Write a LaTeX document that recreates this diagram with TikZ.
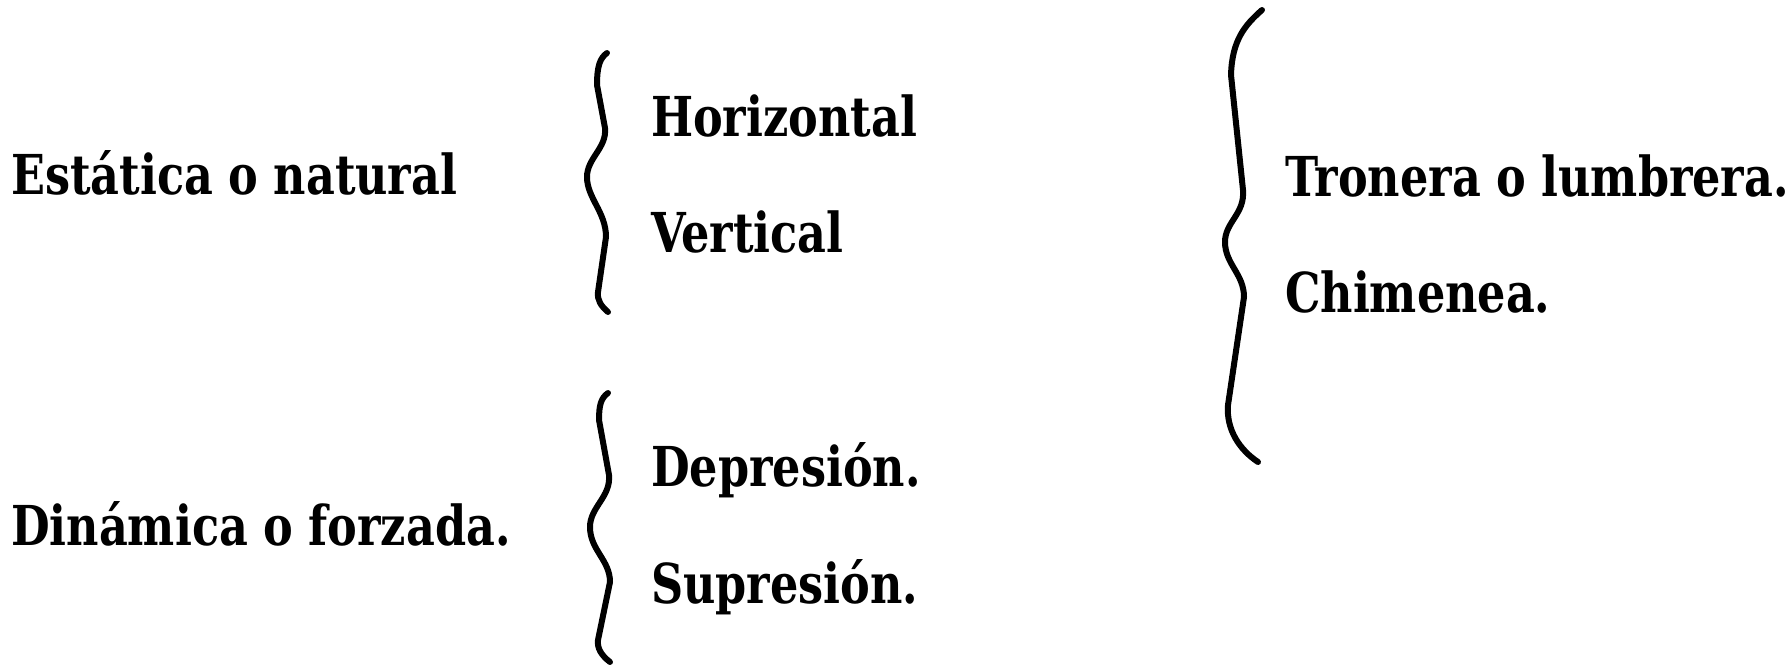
\documentclass[tikz,border=0pt]{standalone}
\usepackage{graphicx}
\usepackage{fontspec}
\setmainfont{DejaVu Serif Condensed}
\newcommand\sx[1]{\scalebox{0.9}[1]{#1}}
\begin{document}
\begin{tikzpicture}[x=1pt,y=-1pt,
  lbl/.style={anchor=base west,inner sep=0pt,font=\fontsize{55}{66}\selectfont\bfseries},
  bracestyle/.style={line width=6pt,line cap=round,line join=round}]
\useasboundingbox (0,0) rectangle (1791,669);
\node[lbl] (est) at (11,194) {\sx{Estática o natural}};
\node[lbl] (hor) at (651,136) {\sx{Horizontal}};
\node[lbl] (ver) at (651,252) {\sx{Vertical}};
\node[lbl] (tro) at (1285,196) {\sx{Tronera o lumbrera.}};
\node[lbl] (chi) at (1285,312) {\sx{Chimenea.}};
\node[lbl] (din) at (11,545) {\sx{Dinámica o forzada.}};
\node[lbl] (dep) at (651,486) {\sx{Depresión.}};
\node[lbl] (sup) at (651,603) {\sx{Supresión.}};
% brace 1
\draw[bracestyle] (607,53) .. controls (600,58) and (597,66) .. (597,85)
  -- (605,128) .. controls (607,148) and (587,158) .. (587,177)
  .. controls (587,198) and (606,212) .. (606,237)
  -- (598,292) .. controls (597,300) and (601,306) .. (608,312);
% brace 2
\draw[bracestyle] (608,393) .. controls (601,398) and (599,405) .. (599,420)
  -- (609,475) .. controls (611,497) and (590,507) .. (590,527)
  .. controls (590,550) and (610,560) .. (610,582)
  -- (598,640) .. controls (597,648) and (601,655) .. (610,662);
% brace 3
\draw[bracestyle] (1262,10) .. controls (1245,25) and (1232,40) .. (1231,75)
  -- (1243,190) .. controls (1245,214) and (1225,222) .. (1225,242)
  .. controls (1225,264) and (1244,274) .. (1244,297)
  -- (1228,405) .. controls (1226,430) and (1240,450) .. (1258,462);
\end{tikzpicture}
\end{document}
